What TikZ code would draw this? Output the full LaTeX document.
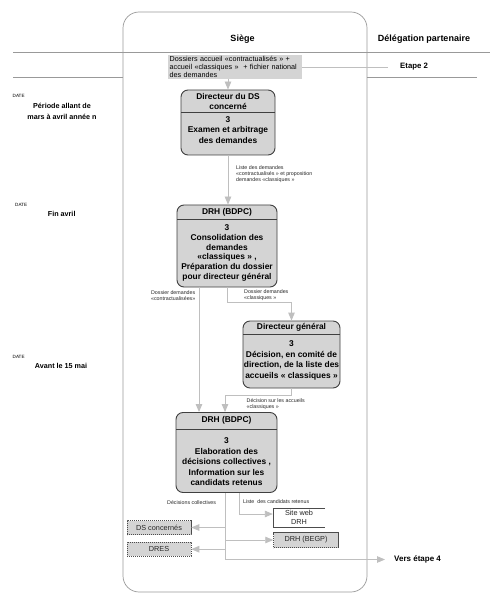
\documentclass[tikz,border=0pt]{standalone}
\usepackage{fontspec}
\setmainfont{Liberation Sans}
\usetikzlibrary{arrows.meta}
\begin{document}
\begin{tikzpicture}[x=1pt,y=-1pt,
  lane/.style={draw=black!40,line width=0.7pt,rounded corners=16pt},
  procbox/.style={draw=black!75,fill=black!17,line width=0.9pt,rounded corners=7pt,inner sep=0pt},
  divider/.style={draw=black!75,line width=0.8pt},
  btxt/.style={font=\fontsize{8.4}{10}\selectfont\bfseries,align=center,inner sep=0pt},
  conn/.style={draw=black!25,line width=0.9pt},
  arr/.style={conn,-{Triangle[width=6.5pt,length=8pt]}},
  lbl/.style={font=\fontsize{5.3}{6.3}\selectfont,text=black!85,align=left,inner sep=0pt},
  ext/.style={draw=black!70,dash pattern=on 1.2pt off 0.8pt,fill=black!17,line width=0.5pt,font=\fontsize{7.3}{8.5}\selectfont,text=black!85,inner sep=0pt},
  datel/.style={font=\fontsize{4.6}{5}\selectfont,inner sep=0pt,anchor=west},
  dateb/.style={font=\fontsize{7.2}{11}\selectfont\bfseries,align=center,inner sep=0pt},
  title/.style={font=\fontsize{9}{10}\selectfont\bfseries,inner sep=0pt}
]
\useasboundingbox (0,0) rectangle (500,601);
\fill[white] (0,0) rectangle (500,601);

% swimlane and header lines
\draw[lane] (123,12) rectangle (367,592);
\draw[draw=black!40,line width=1.6pt] (13,52.5) -- (490,52.5);
\draw[draw=black!40,line width=0.6pt] (13,77) -- (123,77);
\draw[draw=black!40,line width=0.6pt] (367,77) -- (477,77);

\node[title] (siege) at (242.5,39) {Siège};
\node[title] (deleg) at (424,39) {Délégation partenaire};

% top input box
\node[fill=black!17,inner sep=1.5pt,text width=131pt,anchor=north west,align=left,
      font=\fontsize{7.2}{8}\selectfont] (dossiers) at (168,54.5)
  {Dossiers accueil «contractualisés » +\\accueil «classiques » \ + fichier national\\des demandes};
\coordinate (etEnd) at (388,67.5);
\draw[conn] (dossiers.east |- etEnd) -- (etEnd);
\node[font=\fontsize{7.8}{9}\selectfont\bfseries,anchor=west,inner sep=0pt] (etape) at (400,67) {Etape 2};

% dates
\node[datel] (d1) at (12.5,96) {DATE};
\node[dateb] (d1t) at (62,111) {Période allant de\\mars à avril année n};
\node[datel] (d2) at (15,204.5) {DATE};
\node[dateb] (d2t) at (61.7,214) {Fin avril};
\node[datel] (d3) at (12.5,357) {DATE};
\node[dateb] (d3t) at (61,366) {Avant le 15 mai};

% box 1
\node[procbox,minimum width=94pt,minimum height=65pt] (b1) at (228,122.5) {};
\draw[divider] (181,112) -- (275,112);
\node[btxt] (b1h) at (228,101.5) {Directeur du DS\\concerné};
\node[btxt,font=\fontsize{8.4}{10.8}\selectfont\bfseries] (b1b) at (228,130) {3\\Examen et arbitrage\\des demandes};

% box 2
\node[procbox,minimum width=100pt,minimum height=82pt] (b2) at (227,246) {};
\draw[divider] (177,219) -- (277,219);
\node[btxt] (b2h) at (227,212) {DRH (BDPC)};
\node[btxt,font=\fontsize{8.4}{9.9}\selectfont\bfseries] (b2b) at (227,253) {3\\Consolidation des\\demandes\\«classiques » ,\\Préparation du dossier\\pour directeur général};

% box 3
\node[procbox,minimum width=97pt,minimum height=67pt] (b3) at (291.5,354.5) {};
\draw[divider] (243,334) -- (340,334);
\node[btxt] (b3h) at (291.5,327.3) {Directeur général};
\node[btxt,font=\fontsize{8.4}{10.7}\selectfont\bfseries] (b3b) at (291.5,360.5) {3\\Décision, en comité de\\direction, de la liste des\\accueils « classiques »};

% box 4
\node[procbox,minimum width=101pt,minimum height=80pt] (b4) at (226.5,452.5) {};
\draw[divider] (176,429) -- (277,429);
\node[btxt] (b4h) at (226.5,420.5) {DRH (BDPC)};
\node[btxt,font=\fontsize{8.4}{10.5}\selectfont\bfseries] (b4b) at (226.5,462) {3\\Elaboration des\\décisions collectives ,\\Information sur les\\candidats retenus};

% outputs
\node[ext,minimum width=64pt,minimum height=14pt] (dsc) at (159,527.5) {DS concernés};
\node[ext,minimum width=64pt,minimum height=14pt] (dres) at (159,549.2) {DRES};
\node[ext,minimum width=65pt,minimum height=15pt] (begp) at (306,540) {DRH (BEGP)};
\node[inner sep=0pt,minimum width=52pt,minimum height=18.5pt,align=center,
      font=\fontsize{7.3}{8.7}\selectfont,text=black!85] (site) at (299,517.5) {Site web\\DRH};
\draw[draw=black!70,line width=0.6pt] (site.north east) -- (site.north west) -- (site.south west) -- (site.south east);
\node[font=\fontsize{8}{9}\selectfont\bfseries,anchor=west,inner sep=0pt] (vers) at (394,559.5) {Vers étape 4};

% connector labels
\node[lbl,anchor=north west] (l1) at (236,165) {Liste des demandes\\«contractualisés » et proposition\\demandes «classiques »};
\node[lbl,anchor=north east,align=center] (l2) at (195.5,290) {Dossier demandes\\«contractualisées»};
\node[lbl,anchor=north west] (l3) at (244,289) {Dossier demandes\\«classiques »};
\node[lbl,anchor=north west] (l4) at (246.5,398.5) {Décision sur les accueils\\«classiques »};
\node[lbl,anchor=west] (l5) at (167,503) {Décisions collectives};
\node[lbl,anchor=west] (l6) at (243,502) {Liste \ des candidats retenus};

% connectors
\coordinate (L) at (199,0);
\coordinate (R) at (225,0);
\coordinate (S) at (239.5,0);
\draw[arr] (dossiers.south -| b1.north) -- (b1.north);
\draw[arr] (b1.south) -- (b1.south |- b2.north);
\draw[arr] (b2.south -| L) -- (b4.north -| L);
\draw[arr] (b2.south) -- ++(0,15) -| (b3.north);
\draw[arr] (b3.south) -- ++(0,7) -| (b4.north -| R);
\draw[arr,shorten >=9pt] (b4.south -| R) |- (vers.west);
\draw[arr] (dsc.east -| R) -- (dsc.east);
\draw[arr] (dres.east -| R) -- (dres.east);
\draw[arr] (begp.west -| R) -- (begp.west);
\draw[arr] (b4.south -| S) |- ([yshift=3.5pt]site.west);
\end{tikzpicture}
\end{document}
